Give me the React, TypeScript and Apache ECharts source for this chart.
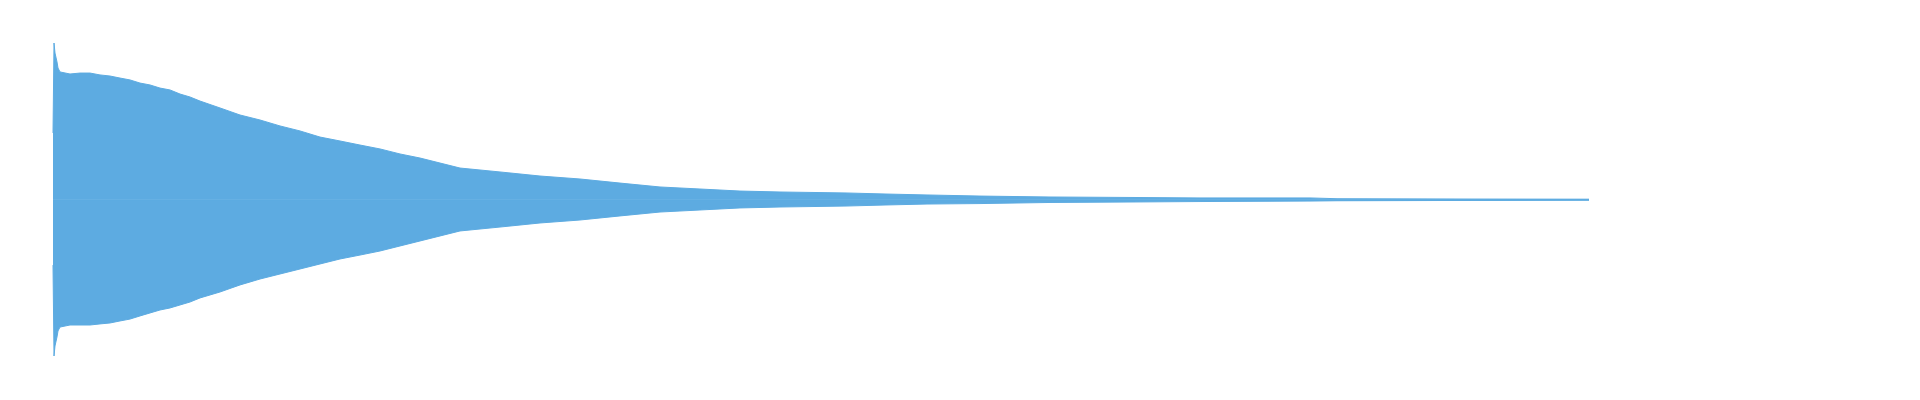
import { useEffect, useRef } from "react";
import * as echarts from "echarts";

// sample column (x) where the envelope was read
const sampleX = [
  0, 1, 2, 4, 5, 7, 17, 27, 37, 47, 57, 67, 77, 87, 97, 107, 117, 127, 137, 147,
  167, 187, 207, 227, 247, 267, 287, 307, 327, 347, 367, 407, 447, 487, 527, 567,
  607, 647, 687, 727, 792, 833, 874, 927, 997, 1077, 1147, 1257, 1284, 1415, 1536,
];

// upper envelope (peak amplitude)
const upperPeak = [
  0.425, 1.0, 0.936, 0.879, 0.84, 0.815, 0.802, 0.808, 0.808, 0.796, 0.789, 0.776,
  0.764, 0.744, 0.732, 0.712, 0.7, 0.674, 0.655, 0.629, 0.585, 0.54, 0.508, 0.47,
  0.438, 0.399, 0.374, 0.348, 0.323, 0.291, 0.265, 0.201, 0.176, 0.15, 0.131, 0.105,
  0.08, 0.067, 0.054, 0.048, 0.042, 0.035, 0.029, 0.022, 0.016, 0.013, 0.01, 0.01,
  0.005, 0.003, 0.002,
];

// lower envelope (trough amplitude)
const lowerPeak = [
  -0.419, -1.0, -0.936, -0.878, -0.84, -0.815, -0.802, -0.802, -0.802, -0.795, -0.789,
  -0.776, -0.764, -0.744, -0.725, -0.706, -0.693, -0.674, -0.655, -0.629, -0.591,
  -0.546, -0.508, -0.476, -0.444, -0.412, -0.38, -0.355, -0.329, -0.297, -0.265,
  -0.201, -0.176, -0.15, -0.131, -0.105, -0.08, -0.067, -0.054, -0.048, -0.042,
  -0.035, -0.029, -0.026, -0.019, -0.016, -0.013, -0.01, -0.008, -0.006, -0.003,
];

const WAVE_COLOR = "#5dabe1";

const Waveform = () => {
  const chartRef = useRef<HTMLDivElement>(null);

  useEffect(() => {
    if (!chartRef.current) return;
    document.body.style.margin = "0";

    const chart = echarts.init(chartRef.current, undefined, { renderer: "svg" });

    const upper = sampleX.map((x, i) => [x, upperPeak[i]]);
    const lower = sampleX.map((x, i) => [x, lowerPeak[i]]);

    const option: echarts.EChartsOption = {
      animation: false,
      grid: { left: 53, right: 331, top: 43, bottom: 44 },
      xAxis: {
        type: "value",
        min: 0,
        max: 1536,
        show: false,
      },
      yAxis: {
        type: "value",
        min: -1,
        max: 1,
        show: false,
      },
      series: [
        {
          name: "upper",
          type: "line",
          data: upper,
          symbol: "none",
          silent: true,
          lineStyle: { color: WAVE_COLOR, width: 1 },
          areaStyle: { color: WAVE_COLOR, opacity: 1 },
          // covers the hairline seam between the two filled halves
          markLine: {
            silent: true,
            symbol: "none",
            label: { show: false },
            lineStyle: { color: WAVE_COLOR, width: 1.5, type: "solid" },
            data: [{ yAxis: 0 }],
          },
        },
        {
          name: "lower",
          type: "line",
          data: lower,
          symbol: "none",
          silent: true,
          lineStyle: { color: WAVE_COLOR, width: 1 },
          areaStyle: { color: WAVE_COLOR, opacity: 1 },
        },
      ],
    };

    chart.setOption(option);

    const handleResize = () => chart.resize();
    window.addEventListener("resize", handleResize);

    return () => {
      window.removeEventListener("resize", handleResize);
      chart.dispose();
    };
  }, []);

  return <div ref={chartRef} style={{ width: "1920px", height: "400px" }} />;
};

export default function App() {
  return <Waveform />;
}
